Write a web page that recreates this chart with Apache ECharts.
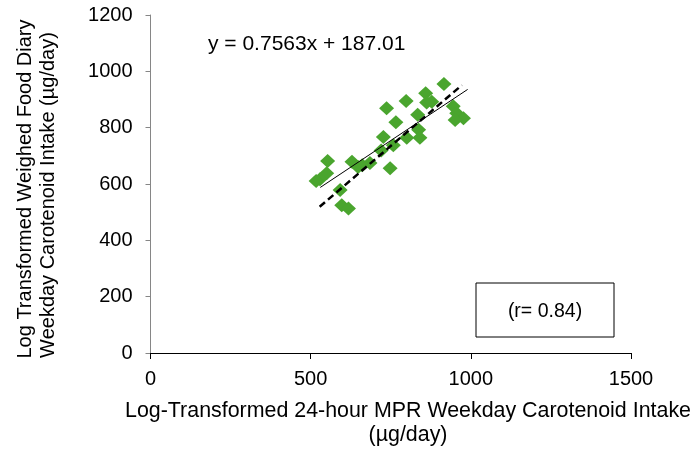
<!DOCTYPE html>
<html>
<head>
<meta charset="utf-8">
<script src="https://cdn.jsdelivr.net/npm/echarts@6/dist/echarts.min.js"></script>
<style>
html,body{margin:0;padding:0;background:#fff;}
#c{width:693px;height:451px;}
</style>
</head>
<body>
<div id="c"></div>
<script>
// Data
var mprIntake = [916, 859, 862, 878, 798, 737, 945, 956, 977, 951, 834, 766, 837, 841, 800, 727, 758, 720, 748, 685, 648, 629, 553, 550, 529, 517, 592, 597, 618, 661];
var diaryIntake = [955, 922, 889, 892, 895, 869, 876, 851, 833, 827, 846, 819, 793, 764, 764, 767, 738, 719, 656, 675, 660, 679, 682, 638, 617, 611, 579, 525, 513, 667];
var fitX = [530, 990];               // extent of the solid regression line
var fitSlope = 0.7563, fitIntercept = 187.01;
var dashX = [528, 972];              // dashed line end points
var dashY = [519, 951];
var xTicks = [0, 500, 1000, 1500];
var yTicks = [0, 200, 400, 600, 800, 1000, 1200];
var equationText = 'y = 0.7563x + 187.01';
var rText = '(r= 0.84)';
var xTitle = ['Log-Transformed 24-hour MPR Weekday Carotenoid Intake', '(\u00b5g/day)'];
var yTitle = ['Log Transformed Weighed Food Diary', 'Weekday Carotenoid Intake (\u00b5g/day)'];

var pts = mprIntake.map(function (x, i) { return [x, diaryIntake[i]]; });
var fitPts = fitX.map(function (x) { return [x, fitSlope * x + fitIntercept]; });
var dashPts = dashX.map(function (x, i) { return [x, dashY[i]]; });
var FONT = '"Liberation Sans", Arial, sans-serif';
function plain(v) { return String(v); }

var chart = echarts.init(document.getElementById('c'), null, {renderer: 'canvas'});
chart.setOption({
  animation: false,
  backgroundColor: '#fff',
  grid: {left: 150.5, right: 62, top: 15, bottom: 98},
  xAxis: {
    type: 'value', min: xTicks[0], max: xTicks[xTicks.length - 1], interval: 500,
    splitLine: {show: false},
    axisLine: {lineStyle: {color: '#000', width: 1}},
    axisTick: {show: true, length: 6, lineStyle: {color: '#000'}},
    axisLabel: {color: '#000', fontSize: 20, fontFamily: FONT, margin: 16, formatter: plain}
  },
  yAxis: {
    type: 'value', min: yTicks[0], max: yTicks[yTicks.length - 1], interval: 200,
    splitLine: {show: false},
    axisLine: {show: true, lineStyle: {color: '#868686', width: 1}},
    axisTick: {show: true, length: 5, lineStyle: {color: '#868686'}},
    axisLabel: {color: '#000', fontSize: 20, fontFamily: FONT, margin: 18, formatter: plain}
  },
  series: [
    {
      type: 'scatter', data: pts, symbol: 'diamond', symbolSize: [15, 14],
      itemStyle: {color: '#4aa52e', opacity: 1}, z: 2
    },
    {
      type: 'line', data: fitPts, symbol: 'none',
      lineStyle: {color: '#000', width: 1}, z: 3
    },
    {
      type: 'line', data: dashPts, symbol: 'none',
      lineStyle: {color: '#000', width: 2.5, type: [7, 4]}, z: 4
    }
  ],
  graphic: [
    {type: 'text', left: 208, top: 34, style: {text: equationText, fill: '#000', font: '21px ' + FONT}},
    {type: 'rect', shape: {x: 476, y: 283, width: 138, height: 54}, style: {fill: '#fff', stroke: '#000', lineWidth: 1}},
    {type: 'text', x: 545, y: 312, style: {text: rText, fill: '#000', font: '19.5px ' + FONT, textAlign: 'center', textVerticalAlign: 'middle'}},
    {type: 'text', x: 408, y: 411, style: {text: xTitle[0], fill: '#000', font: '21.4px ' + FONT, textAlign: 'center', textVerticalAlign: 'middle'}},
    {type: 'text', x: 408, y: 435, style: {text: xTitle[1], fill: '#000', font: '21.4px ' + FONT, textAlign: 'center', textVerticalAlign: 'middle'}},
    {type: 'text', x: 25, y: 189, rotation: Math.PI / 2, style: {text: yTitle[0], fill: '#000', font: '20px ' + FONT, textAlign: 'center', textVerticalAlign: 'middle'}},
    {type: 'text', x: 48, y: 195, rotation: Math.PI / 2, style: {text: yTitle[1], fill: '#000', font: '20px ' + FONT, textAlign: 'center', textVerticalAlign: 'middle'}}
  ]
});
</script>
</body>
</html>
